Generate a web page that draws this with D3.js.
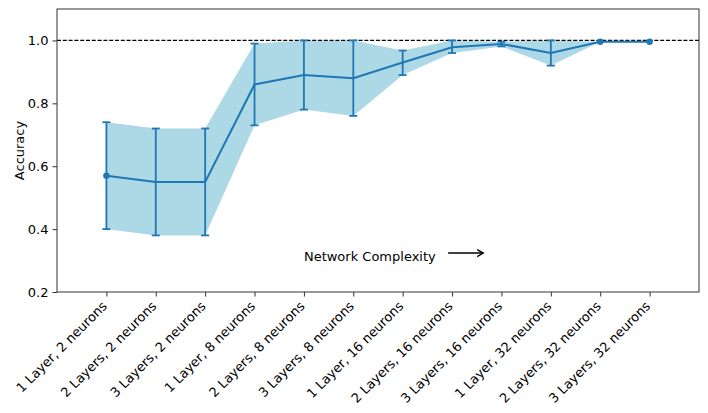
<!DOCTYPE html>
<html>
<head>
<meta charset="utf-8">
<script src="https://cdn.jsdelivr.net/npm/d3@7"></script>
<style>
    body { margin: 0; background: #fff; }
    text { font-family: "DejaVu Sans", sans-serif; fill: #000; }
</style>
</head>
<body>
<svg id="chart" width="708" height="413"></svg>
<script>
// model configurations on the x axis
const configs = [
    "1 Layer, 2 neurons", "2 Layers, 2 neurons", "3 Layers, 2 neurons",
    "1 Layer, 8 neurons", "2 Layers, 8 neurons", "3 Layers, 8 neurons",
    "1 Layer, 16 neurons", "2 Layers, 16 neurons", "3 Layers, 16 neurons",
    "1 Layer, 32 neurons", "2 Layers, 32 neurons", "3 Layers, 32 neurons"
];
// mean accuracy and the band / error bar limits
const meanAcc = [0.57, 0.55, 0.55, 0.86, 0.89, 0.88, 0.93, 0.978, 0.989, 0.96, 0.996, 0.996];
const upperAcc = [0.74, 0.72, 0.72, 0.99, 1.0, 1.0, 0.968, 1.0, 0.996, 1.0, 0.996, 0.996];
const lowerAcc = [0.40, 0.38, 0.38, 0.73, 0.78, 0.76, 0.89, 0.96, 0.981, 0.92, 0.996, 0.996];
const markerIdx = [0, 10, 11];
const yTicks = [0.2, 0.4, 0.6, 0.8, 1.0];

var margin = { top: 9, right: 9, bottom: 121, left: 57 },
    wtot = 708, htot = 413,
    width = wtot - margin.left - margin.right,
    height = htot - margin.top - margin.bottom;

const svg = d3.select("#chart");
const g = svg.append("g").attr("transform", `translate(${margin.left},${margin.top})`);

const x = d3.scaleLinear().domain([-1, configs.length]).range([0, width]);
const y = d3.scaleLinear().domain([0.2, 1.1]).range([height, 0]);

const blue = "#1f77b4";
const idx = d3.range(configs.length);

// shaded band
g.append("path")
    .datum(idx)
    .attr("fill", "#add8e6")
    .attr("d", d3.area()
        .x(i => x(i))
        .y0(i => y(lowerAcc[i]))
        .y1(i => y(upperAcc[i])));

// reference line at 1.0
g.append("line")
    .attr("x1", 0).attr("x2", width)
    .attr("y1", y(1.0)).attr("y2", y(1.0))
    .attr("stroke", "#000")
    .attr("stroke-width", 1.2)
    .attr("stroke-dasharray", "4,1.8");

// error bars
const eb = g.append("g").attr("stroke", blue).attr("stroke-width", 1.8);
idx.filter(i => upperAcc[i] - lowerAcc[i] > 0.001).forEach(i => {
    eb.append("line")
        .attr("x1", x(i)).attr("x2", x(i))
        .attr("y1", y(lowerAcc[i])).attr("y2", y(upperAcc[i]));
    [lowerAcc[i], upperAcc[i]].forEach(v => {
        eb.append("line")
            .attr("x1", x(i) - 4).attr("x2", x(i) + 4)
            .attr("y1", y(v)).attr("y2", y(v));
    });
});

// mean line
g.append("path")
    .datum(idx)
    .attr("fill", "none")
    .attr("stroke", blue)
    .attr("stroke-width", 2)
    .attr("d", d3.line().x(i => x(i)).y(i => y(meanAcc[i])));

g.selectAll("circle.marker")
    .data(markerIdx)
    .join("circle")
    .attr("class", "marker")
    .attr("cx", i => x(i))
    .attr("cy", i => y(meanAcc[i]))
    .attr("r", 3.2)
    .attr("fill", blue);

// axes
const yAxis = g.append("g")
    .call(d3.axisLeft(y).tickValues(yTicks).tickFormat(d3.format(".1f")).tickSize(4.5).tickPadding(4));
yAxis.select(".domain").remove();
yAxis.selectAll("text").style("font-size", "13px");

const xAxis = g.append("g")
    .attr("transform", `translate(0,${height})`)
    .call(d3.axisBottom(x).tickValues(idx).tickFormat(i => configs[i]).tickSize(4.5));
xAxis.select(".domain").remove();
xAxis.selectAll("text")
    .style("font-size", "13px")
    .attr("text-anchor", "end")
    .attr("dy", null)
    .attr("y", null)
    .attr("transform", "translate(1,15) rotate(-45)");
svg.selectAll(".tick line").attr("stroke", "#333");

// frame
g.append("rect")
    .attr("width", width).attr("height", height)
    .attr("fill", "none")
    .attr("stroke", "#333")
    .attr("stroke-width", 1);

// axis label
svg.append("text")
    .attr("transform", `translate(24,${margin.top + height / 2}) rotate(-90)`)
    .attr("text-anchor", "middle")
    .style("font-size", "13px")
    .text("Accuracy");

// annotation
g.append("text")
    .attr("x", x(4)).attr("y", y(0.3))
    .style("font-size", "13px")
    .text("Network Complexity");

const ay = y(0.3) - 7.5;
g.append("line")
    .attr("x1", x(6.92)).attr("x2", x(7.63))
    .attr("y1", ay).attr("y2", ay)
    .attr("stroke", "#000").attr("stroke-width", 1.6);
g.append("path")
    .attr("d", `M${x(7.63) - 6},${ay - 3.5} L${x(7.63)},${ay} L${x(7.63) - 6},${ay + 3.5}`)
    .attr("fill", "none")
    .attr("stroke", "#000").attr("stroke-width", 1.4);
</script>
</body>
</html>
